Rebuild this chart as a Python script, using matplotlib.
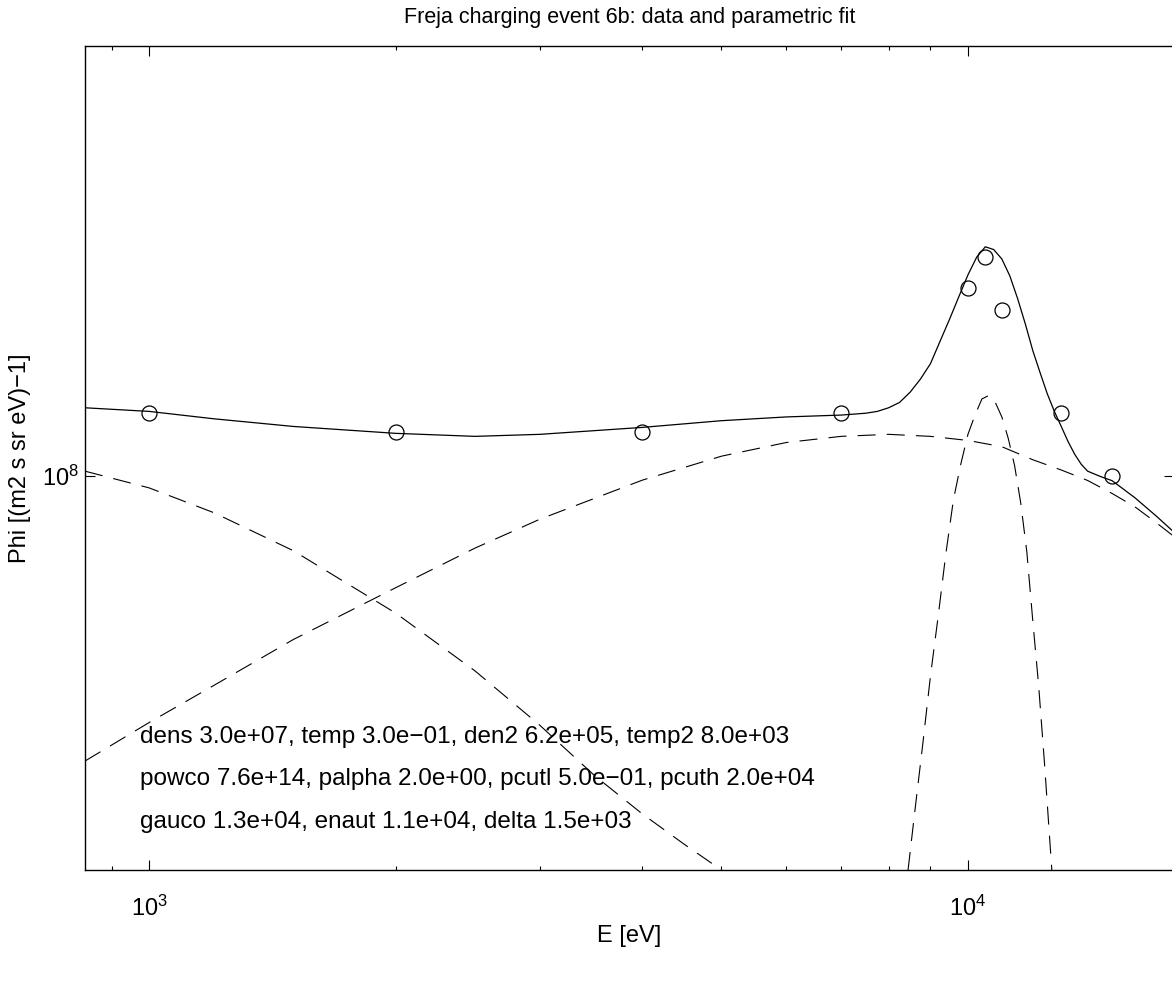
import matplotlib
matplotlib.use('Agg')
import matplotlib.pyplot as plt
from matplotlib.ticker import LogLocator, NullLocator

plt.rcParams['font.family'] = ['Liberation Sans', 'DejaVu Sans']
plt.rcParams['mathtext.fontset'] = 'custom'
plt.rcParams['mathtext.rm'] = 'Liberation Sans'
plt.rcParams['mathtext.it'] = 'Liberation Sans:italic'
plt.rcParams['mathtext.default'] = 'regular'
plt.rcParams['lines.scale_dashes'] = False

# ---- measured data points (circles) ----
E_data = [1000, 2000, 4000, 7000, 10000, 10500, 11000, 13000, 15000]
phi_data = [1.3e8, 1.2e8, 1.2e8, 1.3e8, 2.2e8, 2.5e8, 2.0e8, 1.3e8, 1.0e8]

# ---- total parametric fit (solid) ----
E_fit = [835, 1000, 1200, 1500, 2000, 2500, 3000, 4000, 5000, 6000, 7000, 7500,
         7750, 8000, 8250, 8500, 8750, 9000, 9250, 9500, 9750, 10000, 10250,
         10500, 10750, 11000, 11250, 11500, 11750, 12000, 12250, 12500, 12750,
         13000, 13250, 13500, 13750, 14000, 14500, 15000, 16000, 17000, 17850]
phi_fit = [1.33e8, 1.31e8, 1.27e8, 1.23e8, 1.195e8, 1.18e8, 1.19e8, 1.225e8,
           1.26e8, 1.28e8, 1.29e8, 1.30e8, 1.31e8, 1.33e8, 1.36e8, 1.42e8,
           1.50e8, 1.60e8, 1.76e8, 1.93e8, 2.12e8, 2.32e8, 2.50e8, 2.61e8,
           2.58e8, 2.48e8, 2.31e8, 2.10e8, 1.89e8, 1.69e8, 1.54e8, 1.41e8,
           1.31e8, 1.23e8, 1.155e8, 1.095e8, 1.05e8, 1.02e8, 0.998e8, 0.98e8,
           0.912e8, 0.844e8, 0.79e8]

# ---- component 1 (decreasing, dashed) ----
E_c1 = [835, 1000, 1200, 1500, 2000, 2500, 3000, 3500, 4000, 4500, 5000]
phi_c1 = [1.02e8, 9.51e7, 8.57e7, 7.31e7, 5.63e7, 4.42e7, 3.52e7, 2.85e7,
          2.43e7, 2.14e7, 1.92e7]

# ---- component 2 (broad Maxwellian, dashed) ----
E_c2 = [835, 1000, 1200, 1500, 2000, 2500, 3000, 4000, 5000, 6000, 7000, 8000,
        9000, 10000, 11000, 12000, 13000, 14000, 15000, 16000, 17000, 17850]
phi_c2 = [3.03e7, 3.56e7, 4.16e7, 5.04e7, 6.26e7, 7.39e7, 8.34e7, 9.82e7,
          1.086e8, 1.15e8, 1.18e8, 1.19e8, 1.18e8, 1.16e8, 1.13e8, 1.07e8,
          1.025e8, 9.81e7, 9.29e7, 8.78e7, 8.21e7, 7.76e7]

# ---- component 3 (Gaussian peak, dashed) ----
E_c3 = [8450, 8600, 8800, 9000, 9200, 9400, 9600, 9800, 10000, 10200, 10400,
        10600, 10800, 11000, 11200, 11400, 11600, 11800, 12000, 12200, 12400,
        12660]
phi_c3 = [1.92e7, 2.41e7, 3.22e7, 4.33e7, 5.58e7, 7.24e7, 9.05e7, 1.05e8,
          1.19e8, 1.29e8, 1.38e8, 1.40e8, 1.36e8, 1.28e8, 1.17e8, 1.045e8,
          8.93e7, 7.28e7, 5.45e7, 4.15e7, 3.01e7, 1.92e7]

param_lines = [
    "dens 3.0e+07, temp 3.0e\u221201, den2 6.2e+05, temp2 8.0e+03",
    "powco 7.6e+14, palpha 2.0e+00, pcutl 5.0e\u221201, pcuth 2.0e+04",
    "gauco 1.3e+04, enaut 1.1e+04, delta 1.5e+03",
]

title = "Freja charging event 6b: data and parametric fit"
xlabel = "E [eV]"
ylabel = "Phi [(m2 s sr eV)\u22121]"

W, H = 1172, 983
fig = plt.figure(figsize=(W / 100, H / 100), dpi=100)
ax = fig.add_axes([85 / W, (H - 870) / H, (1174 - 85) / W, (870 - 46) / H])

ax.plot(E_fit, phi_fit, color='k', lw=0.9)
for Ec, pc in [(E_c1, phi_c1), (E_c2, phi_c2), (E_c3, phi_c3)]:
    ax.plot(Ec, pc, color='k', lw=0.8, dashes=(13, 8))
ax.plot(E_data, phi_data, 'o', mfc='none', mec='k', ms=10.8, mew=0.9)

ax.set_xscale('log')
ax.set_yscale('log')
ax.set_xlim(835, 17850)
ax.set_ylim(1.92e7, 6.05e8)
ax.xaxis.set_major_locator(LogLocator(base=10))
ax.xaxis.set_minor_locator(LogLocator(base=10, subs=(2, 3, 4, 5, 6, 7, 8, 9)))
ax.yaxis.set_major_locator(LogLocator(base=10))
ax.yaxis.set_minor_locator(NullLocator())
ax.tick_params(which='both', direction='in', top=True, right=True,
               labelsize=17, width=0.8)
ax.tick_params(which='major', length=7.5)
ax.tick_params(which='minor', length=3.2)
ax.tick_params(axis='x', which='major', pad=18.5)
ax.tick_params(axis='y', which='major', pad=4.5)
for s in ax.spines.values():
    s.set_linewidth(1.0)

ax.set_title(title, fontsize=15.5, pad=16.5)
ax.set_xlabel(xlabel, fontsize=17, labelpad=3)
ax.set_ylabel(ylabel, fontsize=17, labelpad=8)

for i, line in enumerate(param_lines):
    ax.text((140 - 85) / 1089, (870 - 737 - 42.5 * i) / 824, line,
            transform=ax.transAxes, fontsize=17.5, va='center', ha='left')

fig.savefig('out.png', dpi=100)
